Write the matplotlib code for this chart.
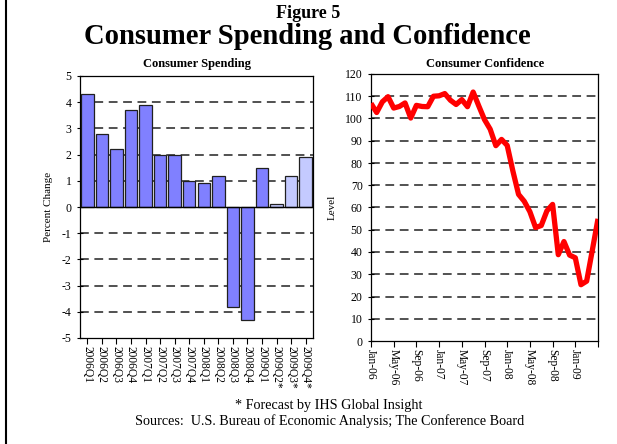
import matplotlib
matplotlib.use("Agg")
import matplotlib.pyplot as plt
from matplotlib.lines import Line2D

plt.rcParams['font.family'] = ['Liberation Serif', 'DejaVu Serif']
plt.rcParams['axes.unicode_minus'] = False

# ---- data ----
quarters = ["2006Q1", "2006Q2", "2006Q3", "2006Q4", "2007Q1", "2007Q2", "2007Q3", "2007Q4",
            "2008Q1", "2008Q2", "2008Q3", "2008Q4", "2009Q1", "2009Q2*", "2009Q3*", "2009Q4*"]
spending = [4.3, 2.8, 2.2, 3.7, 3.9, 2.0, 2.0, 1.0, 0.9, 1.2, -3.8, -4.3, 1.5, 0.1, 1.2, 1.9]
forecast = [False] * 13 + [True] * 3

months_labels = ["Jan-06", "May-06", "Sep-06", "Jan-07", "May-07", "Sep-07",
                 "Jan-08", "May-08", "Sep-08", "Jan-09", ""]
confidence = [106.8, 102.7, 107.5, 109.8, 104.7, 105.4, 107.0, 100.2, 105.9, 105.4, 105.3, 110.0,
              110.2, 111.2, 108.2, 106.3, 108.5, 105.3, 111.9, 105.6, 99.5, 95.2, 87.8, 90.6,
              87.9, 76.4, 65.9, 62.8, 58.1, 51.0, 51.9, 58.5, 61.4, 38.8, 44.7, 38.6,
              37.4, 25.3, 26.9, 40.8, 54.9]

W, H = 617, 444
fig = plt.figure(figsize=(W / 100, H / 100), dpi=100)

def fx(px):
    return px / W

def fy(py):
    return 1 - py / H

grid_kw = dict(color='#2a2a2a', lw=1.15, linestyle=(0, (5.5, 3.5)), zorder=0)

# ---- left: spending ----
ax1 = fig.add_axes([fx(80), fy(338), fx(313) - fx(80), fy(76) - fy(338)])
colors = ['#C4CAFF' if f else '#8080FF' for f in forecast]
xs = list(range(len(quarters)))
ax1.bar(xs, spending, width=0.86, color=colors, edgecolor='#202020', linewidth=0.9, zorder=2)
for v in [-4, -3, -2, -1, 1, 2, 3, 4]:
    ax1.axhline(v, **grid_kw)
ax1.axhline(0, color='black', lw=1.0, zorder=3)
ax1.set_xlim(-0.5, len(quarters) - 0.5)
ax1.set_ylim(-5, 5)
ax1.set_yticks(range(-5, 6))
ax1.set_xticks(xs)
ax1.set_xticklabels(quarters, rotation=270, fontsize=8.3)
ax1.tick_params(axis='y', direction='inout', length=5, labelsize=8.5, width=0.8)
ax1.tick_params(axis='x', direction='out', length=4, width=0.8, pad=2)
ax1.set_ylabel("Percent Change", fontsize=8, labelpad=6)
for s in ax1.spines.values():
    s.set_linewidth(0.9)

fig.text(fx(197), fy(64), "Consumer Spending", ha='center', va='center',
         fontsize=9, fontweight='bold')

# ---- right: confidence ----
ax2 = fig.add_axes([fx(371), fy(341), fx(598) - fx(371), fy(74) - fy(341)])
for v in range(10, 120, 10):
    ax2.axhline(v, **grid_kw)
ax2.plot(range(len(confidence)), confidence, color='#FF0000', lw=3.8,
         solid_joinstyle='round', solid_capstyle='butt', zorder=3)
ax2.set_xlim(0, len(confidence) - 1)
ax2.set_ylim(0, 120)
ax2.set_yticks(range(0, 121, 10))
ax2.set_xticks(range(0, len(confidence), 4))
ax2.set_xticklabels(months_labels, rotation=270, fontsize=8.3)
ax2.tick_params(axis='y', direction='inout', length=5, labelsize=8.5, width=0.8)
ax2.tick_params(axis='x', direction='out', length=4, width=0.8, pad=2)
ax2.set_ylabel("Level", fontsize=8, labelpad=6)
for s in ax2.spines.values():
    s.set_linewidth(0.9)

fig.text(fx(485), fy(64), "Consumer Confidence", ha='center', va='center',
         fontsize=9, fontweight='bold')

# ---- titles / notes ----
fig.text(fx(308), fy(14), "Figure 5", ha='center', va='center', fontsize=13, fontweight='bold')
fig.text(fx(307), fy(37), "Consumer Spending and Confidence", ha='center', va='center',
         fontsize=20.6, fontweight='bold')
fig.text(fx(329), fy(405), "* Forecast by IHS Global Insight", ha='center', va='center', fontsize=10.2)
fig.text(fx(330), fy(421), "Sources:  U.S. Bureau of Economic Analysis; The Conference Board",
         ha='center', va='center', fontsize=10.2)

fig.add_artist(Line2D([fx(6), fx(6)], [0, 1], color='black', lw=1.5, transform=fig.transFigure))

fig.savefig("out.png", dpi=100)
